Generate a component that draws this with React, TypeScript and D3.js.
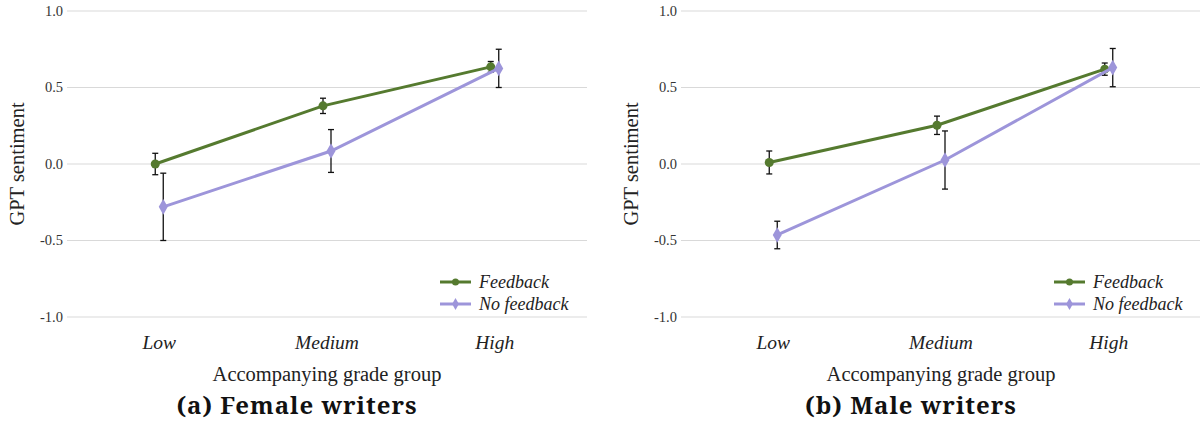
import React from "react";
import * as d3 from "d3";

const categories = ["Low", "Medium", "High"];
const yTicks = [1.0, 0.5, 0.0, -0.5, -1.0];

const femaleFeedback = [0.0, 0.38, 0.635];
const femaleFeedbackErr = [0.07, 0.05, 0.035];
const femaleNoFeedback = [-0.28, 0.085, 0.625];
const femaleNoFeedbackErr = [0.22, 0.14, 0.125];

const maleFeedback = [0.01, 0.253, 0.62];
const maleFeedbackErr = [0.075, 0.06, 0.04];
const maleNoFeedback = [-0.464, 0.026, 0.63];
const maleNoFeedbackErr = [0.09, 0.19, 0.125];

const GREEN = "#557a2f";
const PURPLE = "#9d95da";
const FONT = "'Liberation Serif', serif";
const CAPTION_FONT = "'Noto Serif', serif";

const width = 1200;
const height = 421;

function Panel({ offset, caption, feedback, feedbackErr, noFeedback, noFeedbackErr }) {
  const x = d3
    .scalePoint()
    .domain(categories)
    .range([offset + 67, offset + 587])
    .padding(0.55);
  const y = d3.scaleLinear().domain([-1, 1]).range([317, 11]);

  const series = [
    { name: "Feedback", values: feedback, err: feedbackErr, color: GREEN, dx: -4, shape: "circle" },
    { name: "No feedback", values: noFeedback, err: noFeedbackErr, color: PURPLE, dx: 4, shape: "diamond" },
  ];

  const line = d3.line<number>();
  const diamond = d3.symbol(d3.symbolDiamond, 70)();

  return (
    <g>
      {yTicks.map((t) => (
        <g key={t}>
          <line x1={offset + 67} x2={offset + 587} y1={y(t)} y2={y(t)} stroke="#d9d9d9" strokeWidth={1.2} />
          <text x={offset + 63} y={y(t)} dy="0.33em" textAnchor="end" fontSize={14.5} fill="#333">
            {t.toFixed(1)}
          </text>
        </g>
      ))}
      <text
        transform={`translate(${offset + 24},${y(0)}) rotate(-90)`}
        textAnchor="middle"
        fontSize={20.5}
        fill="#222"
      >
        GPT sentiment
      </text>
      {categories.map((c) => (
        <text key={c} x={x(c)} y={349} textAnchor="middle" fontStyle="italic" fontSize={19.5} fill="#222">
          {c}
        </text>
      ))}
      <text x={offset + 327} y={381} textAnchor="middle" fontSize={20.5} fill="#222">
        Accompanying grade group
      </text>
      <text
        x={offset + 297}
        y={414}
        textAnchor="middle"
        fontSize={24}
        fontWeight="bold"
        letterSpacing={1}
        style={{ fontFamily: CAPTION_FONT }}
        fill="#111"
      >
        {caption}
      </text>

      {series.map((s) => {
        const pts = s.values.map((v, i) => [x(categories[i]) + s.dx, y(v)] as [number, number]);
        return (
          <g key={s.name}>
            <path d={line(pts)} fill="none" stroke={s.color} strokeWidth={3} />
            {s.values.map((v, i) => {
              const cx = x(categories[i]) + s.dx;
              const top = y(v + s.err[i]);
              const bot = y(v - s.err[i]);
              return (
                <g key={i} stroke="#111" strokeWidth={1.3}>
                  <line x1={cx} x2={cx} y1={top} y2={bot} />
                  <line x1={cx - 3} x2={cx + 3} y1={top} y2={top} />
                  <line x1={cx - 3} x2={cx + 3} y1={bot} y2={bot} />
                </g>
              );
            })}
            {pts.map(([px, py], i) =>
              s.shape === "circle" ? (
                <circle key={i} cx={px} cy={py} r={4.5} fill={s.color} />
              ) : (
                <path key={i} d={diamond} transform={`translate(${px},${py})`} fill={s.color} />
              )
            )}
          </g>
        );
      })}

      {series.map((s, i) => {
        const ly = 282 + i * 22;
        const lx = offset + 440;
        return (
          <g key={s.name}>
            <line x1={lx} x2={lx + 31} y1={ly} y2={ly} stroke={s.color} strokeWidth={3} />
            {s.shape === "circle" ? (
              <circle cx={lx + 15.5} cy={ly} r={3.5} fill={s.color} />
            ) : (
              <path d={d3.symbol(d3.symbolDiamond, 40)()} transform={`translate(${lx + 15.5},${ly})`} fill={s.color} />
            )}
            <text x={lx + 39} y={ly} dy="0.33em" fontStyle="italic" fontSize={18} fill="#222">
              {s.name}
            </text>
          </g>
        );
      })}
    </g>
  );
}

export default function App() {
  return (
    <div style={{ position: "absolute", left: 0, top: 0 }}>
      <svg width={width} height={height} style={{ display: "block", background: "#fff", fontFamily: FONT }}>
        <Panel
          offset={0}
          caption="(a) Female writers"
          feedback={femaleFeedback}
          feedbackErr={femaleFeedbackErr}
          noFeedback={femaleNoFeedback}
          noFeedbackErr={femaleNoFeedbackErr}
        />
        <Panel
          offset={614}
          caption="(b) Male writers"
          feedback={maleFeedback}
          feedbackErr={maleFeedbackErr}
          noFeedback={maleNoFeedback}
          noFeedbackErr={maleNoFeedbackErr}
        />
      </svg>
    </div>
  );
}
